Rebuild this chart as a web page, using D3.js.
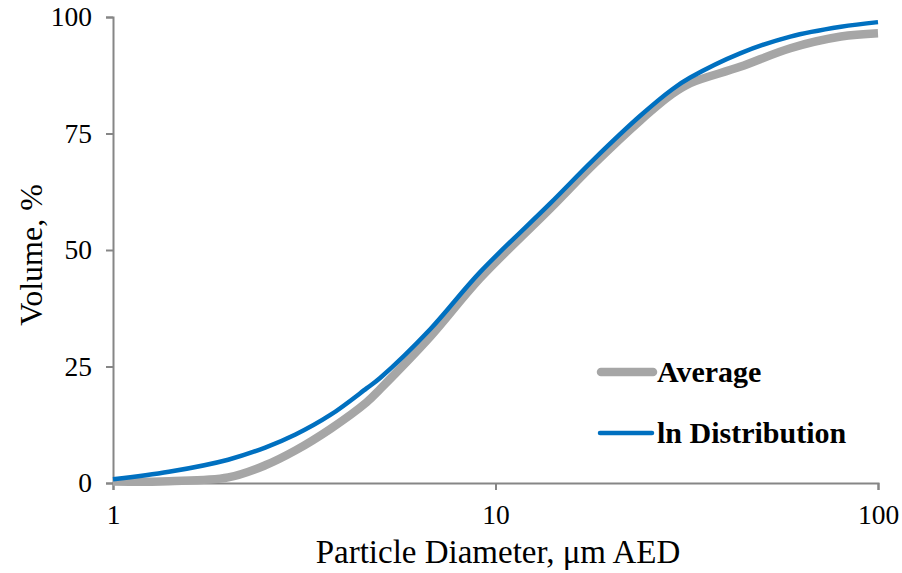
<!DOCTYPE html>
<html>
<head>
<meta charset="utf-8">
<script src="https://cdn.jsdelivr.net/npm/d3@7"></script>
<style>
	body { margin: 0; background: #fff; }
	svg { display: block; font-family: "Liberation Serif", "Times New Roman", serif; }
</style>
</head>
<body>
<svg id="chart" width="902" height="573"></svg>
<script>
(function() {
	'use strict';

	// data
	var diameters = [1, 1.4, 2, 2.5, 3, 3.7, 4.6, 5, 6.75, 9.1, 13.9, 18, 23.9, 29, 32.3, 43.6, 59, 80, 100];
	var average = [0.3, 0.4, 1.2, 3.8, 7.0, 11.6, 17.3, 20.2, 31.4, 43.9, 58.9, 68.3, 77.8, 83.5, 85.8, 89.3, 93.3, 95.8, 96.5];
	var lnDistribution = [0.8, 2.4, 5.0, 7.6, 10.4, 14.6, 20.3, 22.6, 33.0, 45.2, 60, 69.3, 78.8, 84.5, 87.0, 92.2, 95.8, 97.9, 98.9];
	var xTicks = [1, 10, 100];
	var yTicks = [0, 25, 50, 75, 100];

	var series = [
		{ name: 'Average', values: average, color: '#a6a6a6', width: 8.5 },
		{ name: 'ln Distribution', values: lnDistribution, color: '#0070c0', width: 4.5 }
	];

	var svg = d3.select('#chart');
	var axisColor = '#868686';

	var x = d3.scaleLog().domain([1, 100]).range([113, 878]);
	var y = d3.scaleLinear().domain([0, 100]).range([483, 17]);

	// y axis
	var yAxis = svg.append('g')
		.attr('transform', 'translate(113,0)')
		.call(d3.axisLeft(y).tickValues(yTicks).tickSize(7).tickPadding(14));
	// x axis
	var xAxis = svg.append('g')
		.attr('transform', 'translate(0,483)')
		.call(d3.axisBottom(x).tickValues(xTicks).tickFormat(d3.format('d')).tickSize(7).tickPadding(14));

	[xAxis, yAxis].forEach(function(g) {
		g.select('.domain').attr('stroke', axisColor).attr('stroke-width', 2);
		g.selectAll('.tick line').attr('stroke', axisColor).attr('stroke-width', 2);
		g.selectAll('.tick text')
			.attr('fill', '#000')
			.style('font-family', '"Liberation Serif", serif')
			.style('font-size', '27.5px');
	});

	// lines
	var line = d3.line()
		.x(function(d) { return x(d[0]); })
		.y(function(d) { return y(d[1]); })
		.curve(d3.curveCatmullRom.alpha(0.5));

	svg.append('g').selectAll('path')
		.data(series)
		.enter().append('path')
		.attr('d', function(s) {
			return line(diameters.map(function(d, i) { return [d, s.values[i]]; }));
		})
		.attr('fill', 'none')
		.attr('stroke', function(s) { return s.color; })
		.attr('stroke-width', function(s) { return s.width; })
		.attr('stroke-linejoin', 'round');

	// legend
	var legend = svg.append('g').selectAll('g')
		.data(series)
		.enter().append('g')
		.attr('transform', function(s, i) { return 'translate(0,' + (372 + i * 61) + ')'; });

	legend.append('line')
		.attr('x1', function(s, i) { return i ? 600 : 601; })
		.attr('x2', function(s, i) { return i ? 652 : 653; })
		.attr('stroke', function(s) { return s.color; })
		.attr('stroke-width', function(s) { return s.width; })
		.attr('stroke-linecap', 'round');

	legend.append('text')
		.attr('x', 657)
		.attr('y', 10)
		.style('font-size', '30px')
		.style('font-weight', 'bold')
		.text(function(s) { return s.name; });

	// axis titles
	svg.append('text')
		.attr('x', 498)
		.attr('y', 563)
		.attr('text-anchor', 'middle')
		.style('font-size', '33px')
		.text('Particle Diameter, μm AED');

	svg.append('text')
		.attr('transform', 'translate(42,255) rotate(-90)')
		.attr('text-anchor', 'middle')
		.style('font-size', '32px')
		.text('Volume, %');
})();
</script>
</body>
</html>
